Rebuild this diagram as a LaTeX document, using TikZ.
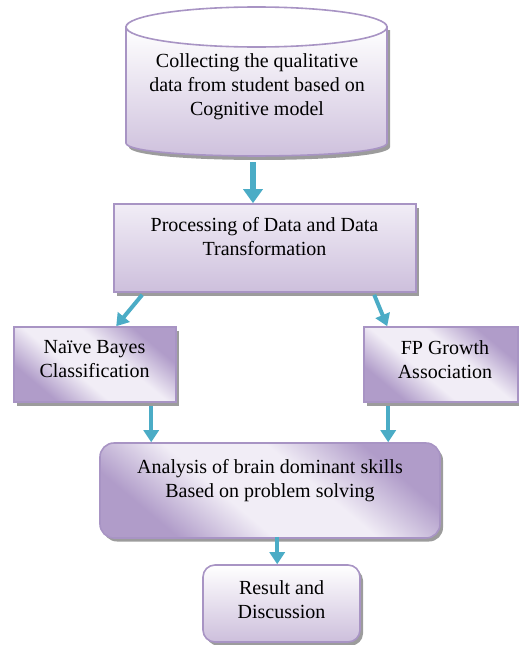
\documentclass[tikz,border=0pt]{standalone}
\usepackage{fontspec}
\setmainfont{Liberation Serif}
\usetikzlibrary{arrows.meta,calc,shadows}
\definecolor{bord}{HTML}{A894C4}
\definecolor{arrowc}{HTML}{4BACC6}
\definecolor{lav}{HTML}{CDBFDC}
\definecolor{lavlight}{HTML}{F1EDF6}
\definecolor{lavdark}{HTML}{B09CC9}
\definecolor{shad}{HTML}{9C9C9C}
\pgfdeclareverticalshading{diagsh}{100bp}{color(0bp)=(lavdark); color(27bp)=(lavdark);
  color(42bp)=(lavlight); color(58bp)=(lavlight); color(73bp)=(lavdark); color(100bp)=(lavdark)}
\tikzset{
  txt/.style={align=center, font=\fontsize{20pt}{24pt}\selectfont, inner sep=0pt,
    execute at begin node=\strut, execute at end node=\strut},
  sh/.style={drop shadow={shadow xshift=3pt, shadow yshift=-3.5pt, fill=shad, opacity=1}},
  vbox/.style={draw=bord, line width=1.6pt, sh, top color=lavlight, bottom color=lav, inner sep=0pt},
  dbox/.style={draw=bord, line width=1.6pt, sh, shading=diagsh, shading angle=-40, inner sep=0pt},
  arr/.style={draw=arrowc, line width=4pt, -{Triangle[width=15pt,length=12pt]}},
  arrbig/.style={draw=arrowc, line width=6pt, -{Triangle[width=19pt,length=14pt]}},
}
\begin{document}
\begin{tikzpicture}[x=1pt,y=-1pt]
\useasboundingbox (0,0) rectangle (519,645);
% cylinder
\fill[shad] (129,30) -- (129,147) .. controls (129,164.3) and (390,164.3) .. (390,147) -- (390,30) -- cycle;
\path[draw=bord, line width=1.6pt, top color=white, bottom color=lav]
  (126,27) -- (126,143) .. controls (126,160.3) and (387,160.3) .. (387,143) -- (387,27) -- cycle;
\draw[bord, line width=1.6pt, fill=white] (256.5,27) ellipse [x radius=130.5pt, y radius=20pt];
\node[minimum width=261pt, minimum height=153pt, inner sep=0pt] (cyl) at (256.5,83.5) {};
\node[txt] (cylT) at (257,88.5) {Collecting the qualitative\\data from student based on\\Cognitive model};
% boxes
\node[vbox, minimum width=302pt, minimum height=88pt] (proc) at (265,248) {};
\node[txt] (procT) at (264.5,240) {Processing of Data and Data\\Transformation};
\node[dbox, minimum width=162pt, minimum height=75pt] (naive) at (95,364.5) {};
\node[txt] (naiveT) at (94.5,363) {Naïve Bayes\\Classification};
\node[dbox, minimum width=154pt, minimum height=75pt] (fp) at (441,364.5) {};
\node[txt] (fpT) at (445,363) {FP Growth\\Association};
\node[dbox, rounded corners=14pt, minimum width=340pt, minimum height=95pt] (an) at (270,490.5) {};
\node[txt] (anT) at (270,482) {Analysis of brain dominant skills\\Based on problem solving};
\node[vbox, top color=white, rounded corners=12pt, minimum width=157pt, minimum height=77pt] (res) at (281.5,603.5) {};
\node[txt] (resT) at (281.5,603) {Result and\\Discussion};
% arrows
\draw[arrbig] ($(cyl.south)+(-3.5,2)$) -- ($(proc.north)+(-12,0)$);
\draw[arr] ($(proc.south west)+(29,2)$) -- ($(naive.north west)+(103,0)$);
\draw[arr] ($(proc.south west)+(261,2)$) -- ($(fp.north west)+(24,0)$);
\draw[arr] ($(naive.south west)+(138,3)$) -- ($(an.north west)+(52,0)$);
\draw[arr] ($(fp.south west)+(25,3)$) -- ($(an.north west)+(289,0)$);
\draw[arr] ($(an.south west)+(178,-2)$) -- ($(res.north west)+(75,0)$);
\end{tikzpicture}
\end{document}
